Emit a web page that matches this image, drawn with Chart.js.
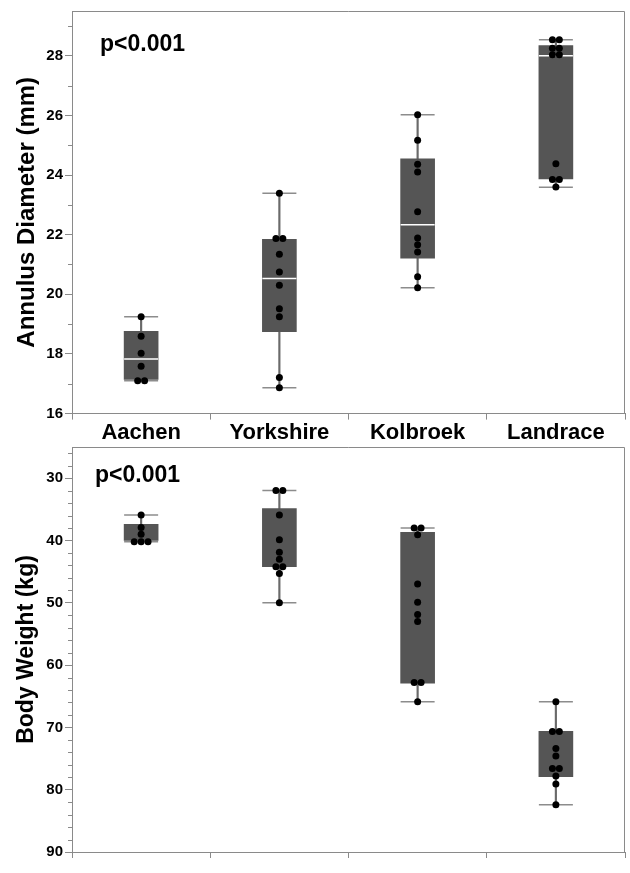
<!DOCTYPE html>
<html>
<head>
<meta charset="utf-8">
<script src="https://cdn.jsdelivr.net/npm/chart.js@4.4.1/dist/chart.umd.min.js"></script>
<style>
  html, body { margin: 0; padding: 0; background: #fff; }
  body { width: 630px; height: 873px; position: relative; overflow: hidden; }
  .panel { position: absolute; left: 0; width: 630px; }
  #topPanel { top: 0; height: 449px; }
  #bottomPanel { top: 437px; height: 436px; }
</style>
</head>
<body>
<div class="panel" id="topPanel"><canvas id="annulusChart"></canvas></div>
<div class="panel" id="bottomPanel"><canvas id="weightChart"></canvas></div>
<script>
// breeds along the x axis
const breeds = ['Aachen', 'Yorkshire', 'Kolbroek', 'Landrace'];

// ===== Annulus diameter (mm) =====
const annulusMin    = [17.1, 16.87, 20.22, 23.59];
const annulusQ1     = [17.15, 18.75, 21.21, 23.87];
const annulusMedian = [17.83, 20.53, 22.33, 28.0];
const annulusQ3     = [18.76, 21.84, 24.54, 28.34];
const annulusMax    = [19.25, 23.39, 26.02, 28.54];
// one value per animal
const annulusAachen    = [19.25, 18.59, 18.02, 17.59, 17.1, 17.1];
const annulusYorkshire = [23.39, 21.87, 21.87, 21.34, 20.75, 20.3, 19.52, 19.25, 17.21, 16.87];
const annulusKolbroek  = [26.02, 25.17, 24.36, 24.1, 22.77, 21.89, 21.66, 21.42, 20.59, 20.22];
const annulusLandrace  = [28.54, 28.54, 28.25, 28.25, 28.03, 28.03, 24.38, 23.85, 23.85, 23.6];
const annulusTicks = [16, 18, 20, 22, 24, 26, 28];

// ===== Body weight (kg) =====
const weightLow  = [35.9, 32.0, 38.0, 65.9];
const weightQ1   = [37.4, 34.9, 38.7, 70.65];
const weightQ3   = [40.0, 44.2, 62.9, 77.9];
const weightHigh = [40.2, 50.0, 65.9, 82.4];
const weightAachen    = [35.9, 37.9, 39.0, 40.2, 40.2, 40.2];
const weightYorkshire = [32.0, 32.0, 35.9, 39.9, 41.9, 43.0, 44.2, 44.2, 45.3, 50.0];
const weightKolbroek  = [38.0, 38.0, 39.1, 47.0, 49.9, 51.9, 53.0, 62.8, 62.8, 65.9];
const weightLandrace  = [65.9, 70.65, 70.65, 73.4, 74.6, 76.6, 76.6, 77.8, 79.1, 82.4];
const weightTicks = [30, 40, 50, 60, 70, 80, 90];

const FONT = "'Liberation Sans', Arial, Helvetica, sans-serif";
const AXIS_GREY = '#8a8a8a';
const BOX_GREY = '#555555';

// spread tied values side by side (like a small beeswarm)
function swarm(groups, gap) {
    const out = [];
    groups.forEach((vals, i) => {
        const counts = {};
        vals.forEach(v => { counts[v] = (counts[v] || 0) + 1; });
        const seen = {};
        vals.forEach(v => {
            const n = counts[v];
            const k = seen[v] || 0;
            seen[v] = k + 1;
            out.push({ x: i + (k - (n - 1) / 2) * gap, y: v });
        });
    });
    return out;
}

// frame, minor ticks and the p-value note
const panelDecor = {
    id: 'panelDecor',
    afterDraw(chart, args, opts) {
        const { ctx, chartArea: a } = chart;
        const ys = chart.scales.y;
        ctx.save();
        ctx.strokeStyle = AXIS_GREY;
        ctx.lineWidth = 1;
        ctx.beginPath();
        ctx.moveTo(a.left, a.top + 0.5);
        ctx.lineTo(a.right - 0.5, a.top + 0.5);
        ctx.lineTo(a.right - 0.5, a.bottom);
        ctx.stroke();
        // minor ticks
        ctx.beginPath();
        const lo = Math.min(ys.min, ys.max), hi = Math.max(ys.min, ys.max);
        for (let v = Math.ceil(lo / opts.minorStep) * opts.minorStep; v <= hi; v += opts.minorStep) {
            if (Math.abs(v % opts.majorStep) < 1e-6) continue;
            const y = Math.round(ys.getPixelForValue(v)) + 0.5;
            ctx.moveTo(a.left - 4, y);
            ctx.lineTo(a.left, y);
        }
        ctx.stroke();
        // p-value
        ctx.fillStyle = '#000';
        ctx.font = 'bold 23px ' + FONT;
        ctx.textBaseline = 'alphabetic';
        ctx.fillText(opts.text, a.left + opts.dx, a.top + opts.dy);
        ctx.restore();
    }
};

function boxDatasets(lo, q1, med, q3, hi, points) {
    const sets = [
        {   // whisker
            type: 'bar', xAxisID: 'x', yAxisID: 'y', grouped: false, order: 5,
            data: lo.map((v, i) => [v, hi[i]]),
            backgroundColor: '#6a6a6a', barThickness: 1.5
        },
        {   // box
            type: 'bar', xAxisID: 'x', yAxisID: 'y', grouped: false, order: 4,
            data: q1.map((v, i) => [v, q3[i]]),
            backgroundColor: BOX_GREY, barThickness: 34
        },
        {   // whisker caps
            type: 'scatter', xAxisID: 'xj', yAxisID: 'y', order: 2,
            data: lo.map((v, i) => ({ x: i, y: v })).concat(hi.map((v, i) => ({ x: i, y: v }))),
            pointStyle: 'line', pointRadius: 17, borderColor: '#8c8c8c', borderWidth: 1.5
        },
        {   // animals
            type: 'scatter', xAxisID: 'xj', yAxisID: 'y', order: 1,
            data: swarm(points, 0.05),
            pointRadius: 3.5, backgroundColor: '#000', borderWidth: 0
        }
    ];
    if (med) {
        sets.push({
            type: 'scatter', xAxisID: 'xj', yAxisID: 'y', order: 3,
            data: med.map((v, i) => ({ x: i, y: v })),
            pointStyle: 'line', pointRadius: 17, borderColor: '#ffffff', borderWidth: 1.5
        });
    }
    return sets;
}

function makeChart(canvasId, cfg) {
    return new Chart(document.getElementById(canvasId), {
        type: 'bar',
        data: { labels: breeds, datasets: cfg.datasets },
        options: {
            responsive: true,
            maintainAspectRatio: false,
            animation: false,
            events: [],
            layout: { padding: cfg.padding, autoPadding: false },
            plugins: {
                legend: { display: false },
                tooltip: { enabled: false },
                panelDecor: cfg.decor
            },
            scales: {
                x: {
                    type: 'category',
                    offset: true,
                    afterFit: s => { s.paddingLeft = 0; s.paddingRight = 0; },
                    grid: { offset: true, drawOnChartArea: false, tickLength: 6, color: AXIS_GREY },
                    border: { color: AXIS_GREY },
                    ticks: { display: cfg.showLabels, padding: 0, color: '#000', font: { family: FONT, size: 22, weight: 'bold' } }
                },
                // hidden helper axis so points can sit side by side inside a category
                xj: { type: 'linear', display: false, offset: false, min: -0.5, max: 3.5,
                      afterFit: s => { s.paddingLeft = 0; s.paddingRight = 0; } },
                y: {
                    type: 'linear',
                    min: cfg.min, max: cfg.max, reverse: cfg.reverse,
                    afterBuildTicks: s => { s.ticks = cfg.ticks.map(v => ({ value: v })); },
                    afterFit: s => { s.width = 63; s.paddingTop = 0; s.paddingBottom = 0; },
                    grid: { drawOnChartArea: false, tickLength: 7, color: AXIS_GREY },
                    border: { color: AXIS_GREY },
                    ticks: { padding: 2, color: '#000', font: { family: FONT, size: 15, weight: 'bold' } },
                    title: { display: true, text: cfg.title, color: '#000', padding: { top: 4, bottom: 0 },
                             font: { family: FONT, size: cfg.titleSize, weight: 'bold' } }
                }
            }
        },
        plugins: [panelDecor]
    });
}

makeChart('annulusChart', {
    datasets: boxDatasets(annulusMin, annulusQ1, annulusMedian, annulusQ3, annulusMax,
        [annulusAachen, annulusYorkshire, annulusKolbroek, annulusLandrace]),
    padding: { left: 9, right: 5, top: 11, bottom: 3 },
    showLabels: true,
    min: 16, max: 29.5, reverse: false,
    ticks: annulusTicks,
    title: 'Annulus Diameter (mm)', titleSize: 24,
    decor: { minorStep: 1, majorStep: 2, text: 'p<0.001', dx: 28, dy: 40 }
});

makeChart('weightChart', {
    datasets: boxDatasets(weightLow, weightQ1, null, weightQ3, weightHigh,
        [weightAachen, weightYorkshire, weightKolbroek, weightLandrace]),
    padding: { left: 9, right: 5, top: 10, bottom: 15 },
    showLabels: false,
    min: 25, max: 90, reverse: true,
    ticks: weightTicks,
    title: 'Body Weight (kg)', titleSize: 23,
    decor: { minorStep: 2, majorStep: 10, text: 'p<0.001', dx: 23, dy: 35 }
});
</script>
</body>
</html>
